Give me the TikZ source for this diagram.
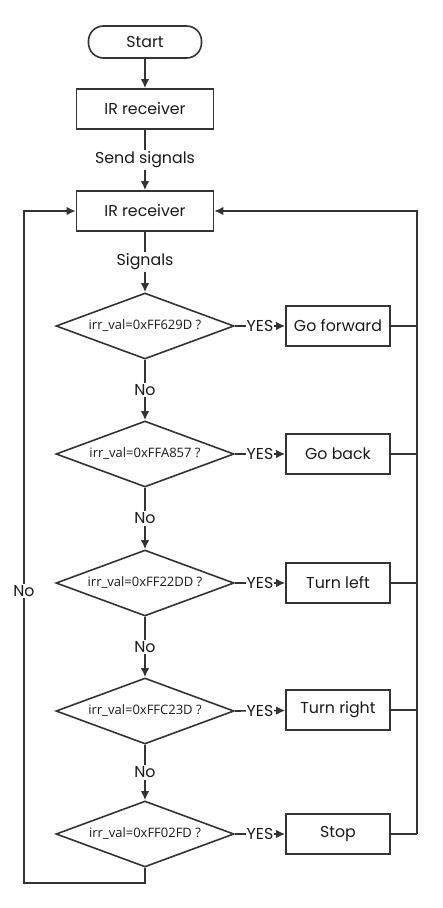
\documentclass[tikz,border=0pt]{standalone}
\usepackage{fontspec}
\setmainfont{Poppins}
\newfontfamily\testfont{Open Sans}
\usetikzlibrary{arrows.meta}
\usetikzlibrary{shapes.geometric}
\definecolor{linegray}{HTML}{333333}
\definecolor{textgray}{HTML}{1A1A1A}

\begin{document}
\begin{tikzpicture}[x = 1pt, y = -1pt,
    every node/.style = {text = textgray, font = \fontsize{15.8}{18}\selectfont},
    lines/.style = {draw = linegray, line width = 1.6pt},
    arr/.style = {lines, -{Latex[length = 9pt, width = 8.5pt]}},
    term/.style = {lines, rounded corners = 15pt, minimum width = 113pt, minimum height = 32pt},
    proc/.style = {lines, minimum width = 137pt, minimum height = 40pt},
    act/.style = {lines, minimum width = 104pt, minimum height = 40pt},
    test/.style = {lines, diamond, aspect = 2.7, inner sep = 0pt,
                   minimum width = 178pt, minimum height = 66pt,
                   font = \testfont\fontsize{13}{15}\selectfont},
    lbl/.style = {fill = white, inner sep = 1.5pt}]
          \useasboundingbox (0,0) rectangle (442,908);
          % main column
          \node[term] (start) at (145,42) {Start};
          \node[proc] (rec1) at (145,109) {IR receiver};
          \node[proc] (rec2) at (145,211) {IR receiver};
          \node[test] (d1) at (145,326) {irr\_val=0xFF629D ?};
          \node[test] (d2) at (145,454) {irr\_val=0xFFA857 ?};
          \node[test] (d3) at (145,583) {irr\_val=0xFF22DD ?};
          \node[test] (d4) at (145,711) {irr\_val=0xFFC23D ?};
          \node[test] (d5) at (145,834) {irr\_val=0xFF02FD ?};
          % actions
          \node[act] (a1) at (338,326) {Go forward};
          \node[act] (a2) at (338,454) {Go back};
          \node[act] (a3) at (338,583) {Turn left};
          \node[act] (a4) at (338,710) {Turn right};
          \node[act] (a5) at (338,834) {Stop};
          \coordinate (bus) at (417,211);
          \coordinate (loop) at (24,883);

          \draw[arr] (start) -- (rec1);
          \draw[arr] (rec1) -- node[lbl] {Send signals} (rec2);
          \draw[arr] (rec2) -- node[lbl] {Signals} (d1);
          \foreach \a/\b in {d1/d2, d2/d3, d3/d4, d4/d5}
            \draw[arr] (\a) -- node[lbl] {No} (\b);
          \foreach \d/\s in {d1/a1, d2/a2, d3/a3, d4/a4, d5/a5} {
            \draw[arr] (\d.east) -- node[lbl, inner sep = 0.5pt] {YES} (\s);
            \draw[lines] (\s.east) -- (\s.east -| bus);
          }
          % back to the receiver
          \draw[arr] (a5.east -| bus) -- (bus) -- (rec2.east);
          \draw[arr] (d5.south) |- (loop) |- node[lbl, pos = 0.217] {No} (rec2.west);
        \end{tikzpicture}
\end{document}
